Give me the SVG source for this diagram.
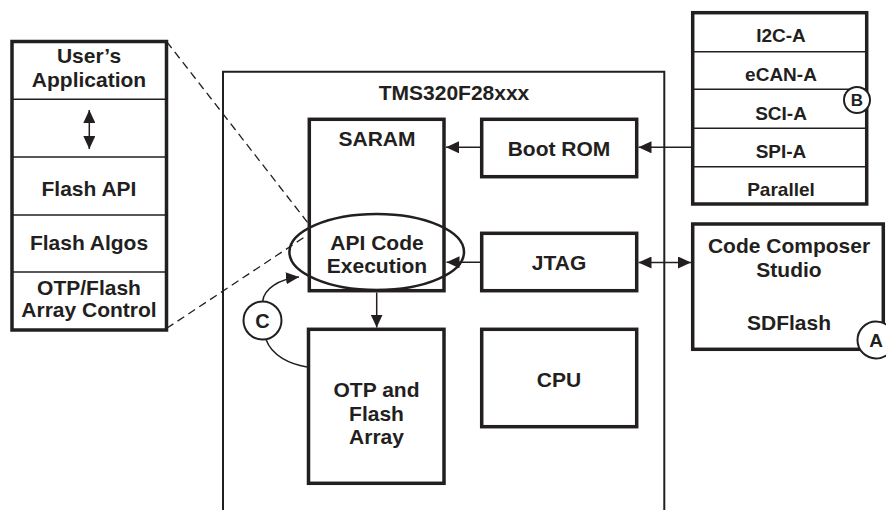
<svg xmlns="http://www.w3.org/2000/svg" width="886" height="510" viewBox="0 0 886 510">
<style>
  .t { font-family: "Liberation Sans", Arial, sans-serif; font-weight: bold; font-size: 21px; fill: #231f20; text-anchor: middle; }
  .s { font-size: 19px; }
  .box { fill: #fff; stroke: #231f20; stroke-width: 3.5; }
  .div { stroke: #231f20; stroke-width: 1.5; fill: none; }
  .chip { fill: none; stroke: #231f20; stroke-width: 2; }
  .ln { stroke: #231f20; stroke-width: 1.5; fill: none; }
  .dash { stroke: #231f20; stroke-width: 1.3; fill: none; stroke-dasharray: 8 5; }
  .circ { fill: #fff; stroke: #231f20; stroke-width: 2; }
</style>
<defs>
  <marker id="ah" markerUnits="userSpaceOnUse" markerWidth="13" markerHeight="12" refX="13" refY="6" orient="auto-start-reverse">
    <path d="M0,0 L13,6 L0,12 z" fill="#231f20"/>
  </marker>
</defs>
<rect width="886" height="510" fill="#fff"/>

<g id="chip">
  <path class="chip" d="M223,520 V71.7 H664.3 V520"/>
  <text class="t" x="454" y="100">TMS320F28xxx</text>
</g>

<g id="left-stack">
  <rect class="box" x="12" y="41.5" width="154.5" height="288.5"/>
  <line class="div" x1="12" y1="99.3" x2="166.5" y2="99.3"/>
  <line class="div" x1="12" y1="157" x2="166.5" y2="157"/>
  <line class="div" x1="12" y1="215" x2="166.5" y2="215"/>
  <line class="div" x1="12" y1="272" x2="166.5" y2="272"/>
  <text class="t" x="89" y="63">User’s</text>
  <text class="t" x="89" y="87">Application</text>
  <line class="ln" x1="89.3" y1="110" x2="89.3" y2="149" marker-start="url(#ah)" marker-end="url(#ah)"/>
  <text class="t" x="89" y="195.5">Flash API</text>
  <text class="t" x="89" y="250">Flash Algos</text>
  <text class="t" x="89" y="295">OTP/Flash</text>
  <text class="t" x="89" y="317">Array Control</text>
</g>

<g id="saram">
  <rect class="box" x="309.3" y="119.3" width="134.7" height="171.4"/>
  <text class="t" x="377" y="146">SARAM</text>
</g>

<g id="api-ellipse">
  <ellipse cx="376.7" cy="252" rx="87.3" ry="38" fill="none" stroke="#231f20" stroke-width="2.5"/>
  <text class="t" x="377" y="249.5">API Code</text>
  <text class="t" x="377" y="273">Execution</text>
</g>

<g id="bootrom">
  <rect class="box" x="481.7" y="119.3" width="155" height="57.4"/>
  <text class="t" x="559" y="156">Boot ROM</text>
</g>

<g id="jtag">
  <rect class="box" x="481.7" y="233.3" width="155" height="57.4"/>
  <text class="t" x="559" y="270">JTAG</text>
</g>

<g id="otp">
  <rect class="box" x="308.5" y="329.3" width="135.5" height="154"/>
  <text class="t" x="376.5" y="396.5">OTP and</text>
  <text class="t" x="376.5" y="420.5">Flash</text>
  <text class="t" x="376.5" y="444">Array</text>
</g>

<g id="cpu">
  <rect class="box" x="481.7" y="329.3" width="155" height="97.4"/>
  <text class="t" x="559" y="386.7">CPU</text>
</g>

<g id="boot-modes">
  <rect class="box" x="692.7" y="12.7" width="174" height="191.3"/>
  <line class="div" x1="692.7" y1="51.7" x2="866.7" y2="51.7"/>
  <line class="div" x1="692.7" y1="89.3" x2="866.7" y2="89.3"/>
  <line class="div" x1="692.7" y1="128.3" x2="866.7" y2="128.3"/>
  <line class="div" x1="692.7" y1="166.7" x2="866.7" y2="166.7"/>
  <text class="t s" x="781" y="42">I2C-A</text>
  <text class="t s" x="781" y="80.5">eCAN-A</text>
  <text class="t s" x="781" y="119.5">SCI-A</text>
  <text class="t s" x="781" y="158">SPI-A</text>
  <text class="t s" x="781" y="196">Parallel</text>
</g>

<g id="ccs">
  <rect class="box" x="692.7" y="224" width="190.6" height="125.3"/>
  <text class="t" x="789" y="253">Code Composer</text>
  <text class="t" x="789" y="277">Studio</text>
  <text class="t" x="789" y="329.5">SDFlash</text>
</g>

<g id="connectors">
  <line class="ln" x1="692.7" y1="147.3" x2="638.5" y2="147.3" marker-end="url(#ah)"/>
  <line class="ln" x1="481.7" y1="147.3" x2="446" y2="147.3" marker-end="url(#ah)"/>
  <line class="ln" x1="481.7" y1="262.3" x2="446.5" y2="262.3" marker-end="url(#ah)"/>
  <line class="ln" x1="638.5" y1="262.5" x2="691" y2="262.5" marker-start="url(#ah)" marker-end="url(#ah)"/>
  <line class="ln" x1="376.7" y1="292.5" x2="376.7" y2="327.5" marker-end="url(#ah)"/>
  <path class="ln" d="M262.7,301.5 C263.5,289 279,279 299,277" marker-end="url(#ah)"/>
  <path class="ln" d="M266,339.5 C272,356 290,364 307,367"/>
  <line class="dash" x1="166.7" y1="41.7" x2="308.3" y2="223.3"/>
  <line class="dash" x1="166.7" y1="328.3" x2="305" y2="236.7"/>
</g>

<g id="label-a">
  <circle class="circ" cx="876" cy="340" r="18.5"/>
  <text class="t" x="876" y="347" style="font-size:19px">A</text>
</g>
<g id="label-b">
  <circle class="circ" cx="857" cy="100" r="13"/>
  <text class="t" x="857" y="106" style="font-size:17px">B</text>
</g>
<g id="label-c">
  <circle class="circ" cx="262.5" cy="320.5" r="19"/>
  <text class="t" x="262.5" y="328" style="font-size:20px">C</text>
</g>
</svg>
